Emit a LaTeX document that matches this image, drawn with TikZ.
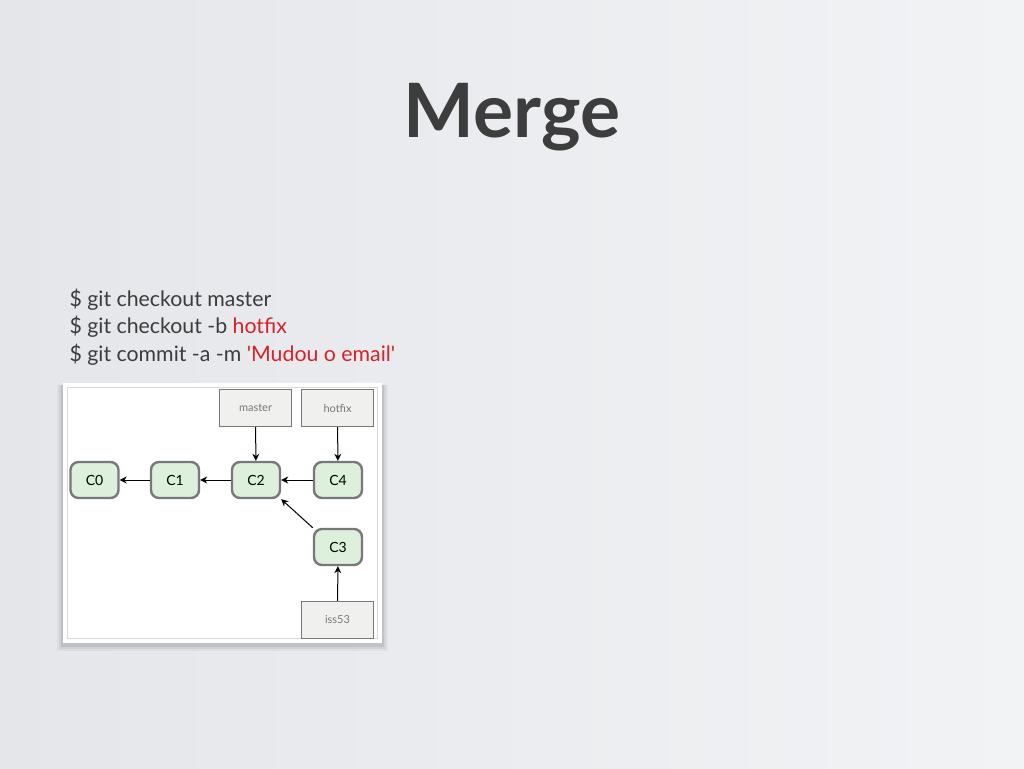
\documentclass[tikz,border=0pt]{standalone}
\usepackage{fontspec}
\setmainfont{Lato}
\usepackage{tikz}
\usetikzlibrary{arrows.meta}

\definecolor{slidebg}{RGB}{228,230,234}
\definecolor{slidebglight}{RGB}{242,243,245}
\definecolor{titlegray}{RGB}{61,61,61}
\definecolor{cmdgray}{RGB}{60,60,60}
\definecolor{cmdred}{RGB}{215,35,40}
\definecolor{commitfill}{RGB}{220,240,220}
\definecolor{boxline}{RGB}{120,120,120}
\definecolor{branchfill}{RGB}{240,240,238}
\definecolor{branchtext}{RGB}{120,120,120}

\tikzset{
  commit/.style={draw=boxline, line width=2.4pt, fill=commitfill, rounded corners=8pt,
    minimum width=48pt, minimum height=36pt, font=\fontsize{14}{16}\selectfont, text=black},
  branch/.style={draw=boxline, line width=1.1pt, fill=branchfill,
    minimum width=72pt, minimum height=37pt, font=\fontsize{11}{13}\selectfont, text=branchtext},
  parent/.style={-{Stealth[length=7pt,width=7pt]}, line width=1pt, black}
}

\begin{document}
\begin{tikzpicture}[x=1pt,y=-1pt]

\useasboundingbox (0,0) rectangle (1024,768);
\shade[shading angle=135, left color=slidebg, right color=slidebglight] (0,0) rectangle (1024,768);

%title and commands
\node[font=\fontsize{75}{80}\selectfont\bfseries, text=titlegray] (title) at (512,117) {Merge};
\node[anchor=west, align=left, font=\fontsize{21.3}{27.5}\selectfont, text=cmdgray] (cmds) at (66,327)
  {\$ git checkout master\\
   \$ git checkout -b \textcolor{cmdred}{hotfix}\\
   \$ git commit -a -m \textcolor{cmdred}{\textquotesingle Mudou o email\textquotesingle}};

%picture frame with shadow
\foreach \d/\o in {6/0.04,4/0.06,2/0.08}
  \fill[black, opacity=\o] (63-\d,385) rectangle (382+\d,645+\d);
\fill[white] (63,383) rectangle (382,643);
\draw[gray!30, line width=0.6pt] (67,387) rectangle (377,638);

%commits
\node[commit] (c0) at (94.5,480) {C0};
\node[commit] (c1) at (175,480) {C1};
\node[commit] (c2) at (256,480) {C2};
\node[commit] (c4) at (338,480) {C4};
\node[commit] (c3) at (338,547) {C3};

%branches
\node[branch] (master) at (255.5,408) {master};
\node[branch] (hotfix) at (337.5,408) {hotfix};
\node[branch] (iss53) at (337.5,620) {iss53};

\draw[parent] (c1) -- (c0);
\draw[parent] (c2) -- (c1);
\draw[parent] (c4) -- (c2);
\draw[parent] (c3.north west) -- (c2.south east);
\draw[parent] (master) -- (c2);
\draw[parent] (hotfix) -- (c4);
\draw[parent] (iss53) -- (c3);

\end{tikzpicture}
\end{document}
